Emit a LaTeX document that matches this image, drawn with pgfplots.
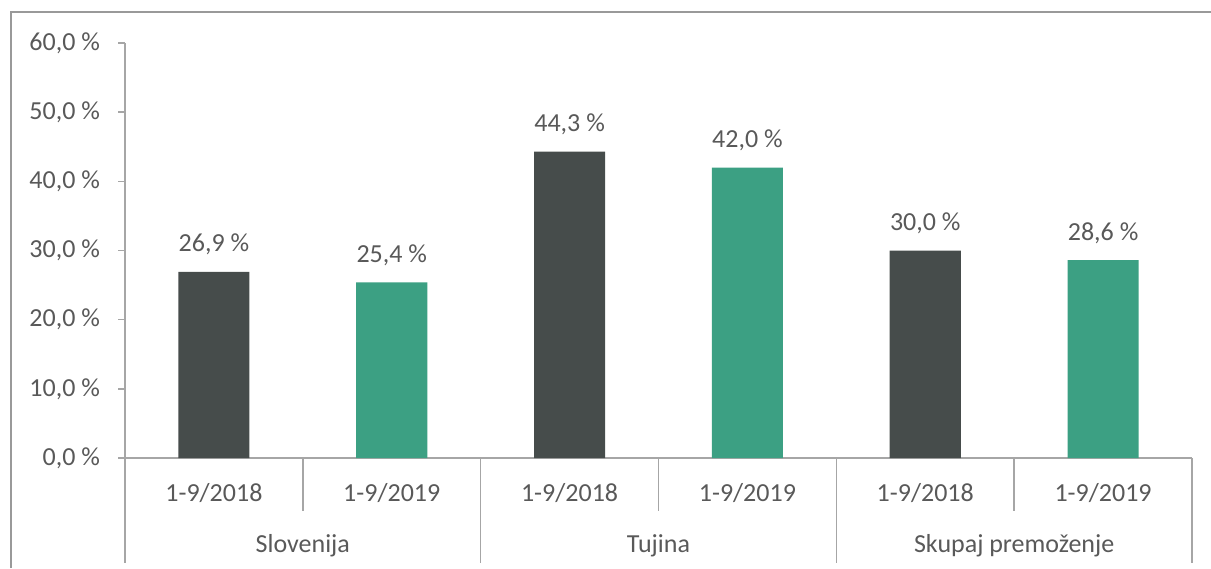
\documentclass[border=0pt]{standalone}
\usepackage{pgfplots}
\pgfplotsset{compat=1.18}
\usepackage{fontspec}
\setmainfont{Carlito}
\definecolor{bardark}{HTML}{464C4B}
\definecolor{bargreen}{HTML}{3CA083}
\definecolor{txt}{HTML}{595959}
\definecolor{axl}{HTML}{A6A6A6}
\definecolor{frm}{HTML}{999999}
\begin{document}
\begin{tikzpicture}[x=1pt,y=1pt]
\path[use as bounding box] (0,0) rectangle (605.5,284);
\draw[frm, line width=1pt] (5.5,0) -- (5.5,278) -- (605.5,278);
\begin{axis}[
  at={(62.5pt,55pt)}, anchor=south west,
  scale only axis, width=533.5pt, height=207.5pt,
  xmin=-0.5, xmax=5.5, ymin=0, ymax=60,
  axis lines*=left,
  axis line style={axl, line width=0.75pt},
  xtick=\empty,
  ytick={0,10,20,30,40,50,60},
  tick align=outside,
  major tick length=3.5pt,
  ytick style={axl, line width=0.75pt},
  /pgf/number format/assume math mode=true,
  yticklabel={\pgfmathprintnumber[fixed,fixed zerofill,precision=1,use comma]{\tick}~\%},
  yticklabel style={font=\fontsize{13}{15}\selectfont, text=txt, xshift=-5.5pt},
  ybar, bar shift=0pt, bar width=0.4,
  clip=false,
  nodes near coords={\pgfmathprintnumber[fixed,fixed zerofill,precision=1,use comma,assume math mode=true]{\pgfplotspointmeta}~\%},
  nodes near coords style={font=\fontsize{13}{15}\selectfont, text=txt, anchor=base, yshift=10pt},
]
\addplot[fill=bardark, draw=none] coordinates {(0,26.9) (2,44.3) (4,30.0)};
\addplot[fill=bargreen, draw=none] coordinates {(1,25.4) (3,42.0) (5,28.6)};
\foreach \xx in {0.5,2.5,4.5} {
  \edef\tmp{\noexpand\draw[axl, line width=0.75pt] (axis cs:\xx,0) -- ([yshift=-26.5pt]axis cs:\xx,0);}\tmp
}
\foreach \xx in {-0.5,1.5,3.5,5.5} {
  \edef\tmp{\noexpand\draw[axl, line width=0.75pt] (axis cs:\xx,0) -- ([yshift=-52.5pt]axis cs:\xx,0);}\tmp
}
\foreach \xx/\lab in {0/1-9\slash 2018,1/1-9\slash 2019,2/1-9\slash 2018,3/1-9\slash 2019,4/1-9\slash 2018,5/1-9\slash 2019} {
  \edef\tmp{\noexpand\node[anchor=base, text=txt, font=\noexpand\fontsize{13}{15}\noexpand\selectfont, inner sep=0pt] at ([yshift=-21.8pt]axis cs:\xx,0) {\unexpanded\expandafter{\lab}};}\tmp
}
\foreach \xx/\lab in {0.5/Slovenija,2.5/Tujina,4.5/Skupaj premoženje} {
  \edef\tmp{\noexpand\node[anchor=base, text=txt, font=\noexpand\fontsize{13}{15}\noexpand\selectfont, inner sep=0pt] at ([yshift=-47pt]axis cs:\xx,0) {\lab};}\tmp
}
\end{axis}
\end{tikzpicture}
\end{document}
